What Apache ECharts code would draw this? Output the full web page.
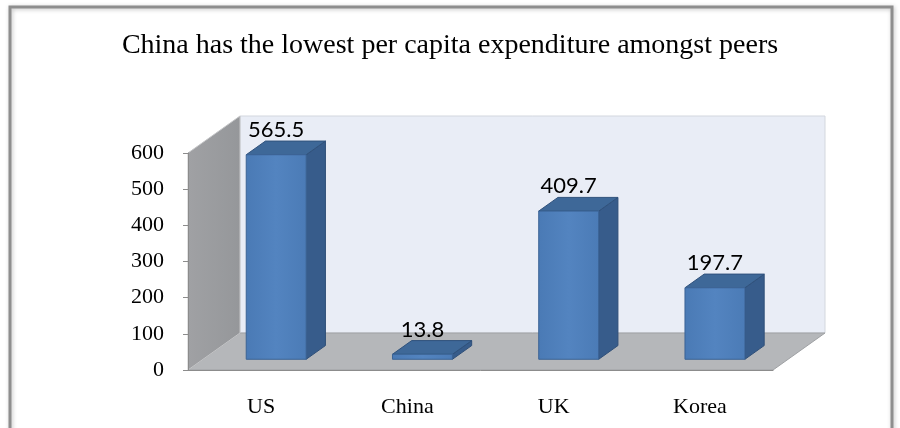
<!DOCTYPE html>
<html>
<head>
<meta charset="utf-8">
<style>
  html, body { margin: 0; padding: 0; background: #ffffff; }
  #chart { width: 900px; height: 428px; }
</style>
<script src="https://cdn.jsdelivr.net/npm/echarts@6/dist/echarts.min.js"></script>
</head>
<body>
<div id="chart"></div>
<script>
// Per capita expenditure by country
const categories = ['US', 'China', 'UK', 'Korea'];
const spending = [565.5, 13.8, 409.7, 197.7];
const yMin = 0;
const yMax = 600;
const yStep = 100;

// Perspective of the 3D box: depth offset in pixels
const DEPTH_X = 52;
const DEPTH_Y = -37;
// Bars sit between these fractions of the depth
const BAR_FRONT = 0.29;
const BAR_BACK = 0.66;
const BAR_WIDTH = 0.41; // share of the category band

const chart = echarts.init(document.getElementById('chart'), null, { renderer: 'canvas' });

function renderWalls(params, api) {
  const band = api.size([1, 0])[0];
  const first = api.coord([0, yMin]);
  const topPt = api.coord([0, yMax]);
  const x0 = first[0] - band / 2;
  const x1 = x0 + band * categories.length;
  const y0 = first[1];
  const yT = topPt[1];
  return {
    type: 'group',
    children: [
      {
        type: 'polygon',
        shape: { points: [[x0 + DEPTH_X, yT + DEPTH_Y], [x1 + DEPTH_X, yT + DEPTH_Y], [x1 + DEPTH_X, y0 + DEPTH_Y], [x0 + DEPTH_X, y0 + DEPTH_Y]] },
        style: { fill: '#e9edf6', stroke: '#d3d7de', lineWidth: 1 }
      },
      {
        type: 'polygon',
        shape: { points: [[x0, y0], [x1, y0], [x1 + DEPTH_X, y0 + DEPTH_Y], [x0 + DEPTH_X, y0 + DEPTH_Y]] },
        style: { fill: '#b5b7ba', stroke: '#9fa1a4', lineWidth: 1 }
      },
      {
        type: 'polygon',
        shape: { points: [[x0, y0], [x0, yT], [x0 + DEPTH_X, yT + DEPTH_Y], [x0 + DEPTH_X, y0 + DEPTH_Y]] },
        style: {
          fill: new echarts.graphic.LinearGradient(0, 0, 1, 0, [
            { offset: 0, color: '#a0a1a4' },
            { offset: 1, color: '#95979a' }
          ]),
          stroke: '#c4c5c7', lineWidth: 1
        }
      }
    ]
  };
}

function renderBar(params, api) {
  const idx = api.value(0);
  const val = api.value(1);
  const band = api.size([1, 0])[0];
  const base = api.coord([idx, yMin]);
  const top = api.coord([idx, val]);
  const w = band * BAR_WIDTH;
  const fx = BAR_FRONT * DEPTH_X, fy = BAR_FRONT * DEPTH_Y;
  const ddx = (BAR_BACK - BAR_FRONT) * DEPTH_X;
  const ddy = (BAR_BACK - BAR_FRONT) * DEPTH_Y;
  const cx = base[0] + fx;
  const L = cx - w / 2, R = cx + w / 2;
  const yB = base[1] + fy, yT = top[1] + fy;
  return {
    type: 'group',
    children: [
      {
        type: 'polygon',
        shape: { points: [[R, yB], [R, yT], [R + ddx, yT + ddy], [R + ddx, yB + ddy]] },
        style: { fill: '#375c8b', stroke: '#2f4f78', lineWidth: 1 }
      },
      {
        type: 'polygon',
        shape: { points: [[L, yT], [R, yT], [R + ddx, yT + ddy], [L + ddx, yT + ddy]] },
        style: { fill: '#3e6898', stroke: '#30527c', lineWidth: 1 }
      },
      {
        type: 'rect',
        shape: { x: L, y: yT, width: w, height: yB - yT },
        style: {
          fill: new echarts.graphic.LinearGradient(0, 0, 1, 0, [
            { offset: 0, color: '#4a7ab5' },
            { offset: 0.5, color: '#5384c0' },
            { offset: 1, color: '#4b7bb6' }
          ]),
          stroke: '#3b6395', lineWidth: 1
        }
      },
      {
        type: 'text',
        style: {
          x: cx,
          y: yT + ddy,
          text: String(val),
          align: 'center',
          verticalAlign: 'bottom',
          fill: '#000000',
          font: '22px Lato'
        },
        z2: 10
      }
    ]
  };
}

chart.setOption({
  backgroundColor: '#ffffff',
  animation: false,
  title: {
    text: 'China has the lowest per capita expenditure amongst peers',
    left: 'center',
    top: 27,
    textStyle: { fontFamily: 'Liberation Serif', fontSize: 28, fontWeight: 'normal', color: '#000000' }
  },
  graphic: [
    {
      type: 'rect',
      shape: { x: 10, y: 7, width: 882, height: 460 },
      style: { fill: 'none', stroke: '#8e8e8e', lineWidth: 3, shadowBlur: 4, shadowColor: 'rgba(0,0,0,0.25)', shadowOffsetX: 1, shadowOffsetY: 1 },
      z: -10
    }
  ],
  grid: { left: 188, right: 127, top: 153, bottom: 58 },
  xAxis: {
    type: 'category',
    data: categories,
    boundaryGap: true,
    axisLine: { lineStyle: { color: '#8c8c8c', width: 1 } },
    axisTick: { length: 6, lineStyle: { color: '#8c8c8c' } },
    axisLabel: { margin: 26, fontFamily: 'Liberation Serif', fontSize: 22, color: '#000000' },
    z: 5
  },
  yAxis: {
    type: 'value',
    min: yMin,
    max: yMax,
    interval: yStep,
    axisLine: { show: true, lineStyle: { color: '#8c8c8c', width: 1 } },
    axisTick: { show: true, length: 5, lineStyle: { color: '#8c8c8c' } },
    splitLine: { show: false },
    axisLabel: { margin: 24, fontFamily: 'Liberation Serif', fontSize: 22, color: '#000000' },
    z: 5
  },
  series: [
    {
      type: 'custom',
      name: 'walls',
      clip: false,
      silent: true,
      z: 1,
      renderItem: renderWalls,
      data: [[0, yMin]]
    },
    {
      type: 'custom',
      name: 'Expenditure',
      clip: false,
      z: 3,
      renderItem: renderBar,
      encode: { x: 0, y: 1 },
      data: spending.map((v, i) => [i, v])
    }
  ]
});
</script>
</body>
</html>
